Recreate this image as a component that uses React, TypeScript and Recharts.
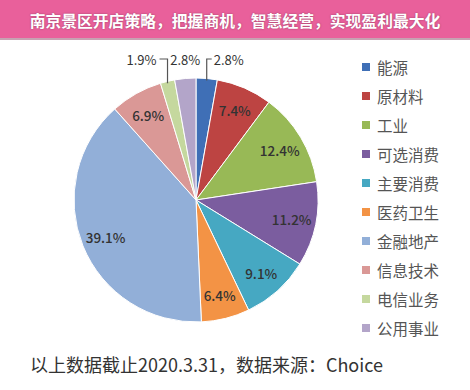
import { PieChart, Pie, Cell, Legend } from 'recharts';

const SECTORS = ['能源', '原材料', '工业', '可选消费', '主要消费', '医药卫生', '金融地产', '信息技术', '电信业务', '公用事业'];
const SHARES = [2.8, 7.4, 12.4, 11.2, 9.1, 6.4, 39.1, 6.9, 1.9, 2.8];
const COLORS = ['#3f6fb6', '#bd4442', '#98b956', '#7b5d9f', '#46a8c2', '#f39345', '#92afd8', '#da9896', '#c5d89e', '#b3a5c9'];

const TITLE = '南京景区开店策略，把握商机，智慧经营，实现盈利最大化';
const NOTE = '以上数据截止2020.3.31，数据来源：Choice';

const data = SECTORS.map((name, i) => ({ name, value: SHARES[i] }));

const RADIAN = Math.PI / 180;
const FONT = '"Noto Sans CJK SC", "Noto Sans", sans-serif';

function SliceLabel(props: any) {
  const { cx, cy, outerRadius, value } = props;
  const midAngle = ((props.midAngle % 360) + 360) % 360;
  const cos = Math.cos(-midAngle * RADIAN);
  const sin = Math.sin(-midAngle * RADIAN);
  const text = `${value.toFixed(1)}%`;
  if (value >= 5) {
    const r = outerRadius * 0.8;
    return (
      <text x={cx + r * cos} y={cy + r * sin} textAnchor="middle" dominantBaseline="central"
        fontSize={13.5} fontWeight={500} fill="#333" fontFamily={FONT}>
        {text}
      </text>
    );
  }
  // small slices: label above the pie, with a bent leader
  const px = cx + outerRadius * cos;
  const py = cy + outerRadius * sin;
  const ly = cy - outerRadius - 19;
  if (midAngle < 90) {
    return (
      <g>
        <polyline points={`${px},${py + 2} ${px},${ly} ${px + 5},${ly}`} fill="none" stroke="#555" strokeWidth={1.2} />
        <text x={px + 7} y={ly} dominantBaseline="central" fontSize={13} fill="#333" fontFamily={FONT}>{text}</text>
      </g>
    );
  }
  if (midAngle < 100) {
    return (
      <text x={px} y={ly} textAnchor="middle" dominantBaseline="central" fontSize={13} fill="#333" fontFamily={FONT}>{text}</text>
    );
  }
  return (
    <g>
      <polyline points={`${px},${py + 2} ${px},${ly} ${px - 8},${ly}`} fill="none" stroke="#555" strokeWidth={1.2} />
      <text x={px - 11} y={ly} textAnchor="end" dominantBaseline="central" fontSize={13} fill="#333" fontFamily={FONT}>{text}</text>
    </g>
  );
}

function SectorLegend() {
  return (
    <div style={{ fontFamily: FONT }}>
      {SECTORS.map((name, i) => (
        <div key={name} style={{ display: 'flex', alignItems: 'center', height: 29 }}>
          <span style={{ width: 8, height: 8, background: COLORS[i], marginRight: 7 }} />
          <span style={{ fontSize: 15.5, color: '#555' }}>{name}</span>
        </div>
      ))}
    </div>
  );
}

export default function App() {
  return (
    <div style={{ position: 'absolute', left: 0, top: 0, width: 470, height: 390, background: '#fff', overflow: 'hidden' }}>
      <PieChart width={470} height={390} margin={{ top: 0, right: 0, bottom: 0, left: 0 }}>
        <Pie
          data={data}
          dataKey="value"
          nameKey="name"
          cx={196}
          cy={200}
          outerRadius={122}
          startAngle={90}
          endAngle={-270}
          stroke="#fff"
          strokeWidth={1}
          label={SliceLabel}
          labelLine={false}
          isAnimationActive={false}
        >
          {data.map((_, i) => (
            <Cell key={i} fill={COLORS[i]} />
          ))}
        </Pie>
        <Legend
          layout="vertical"
          content={<SectorLegend />}
          wrapperStyle={{ left: 362, top: 52, width: 100 }}
        />
      </PieChart>
      <div
        style={{
          position: 'absolute', left: 0, top: 0, width: 470, height: 40,
          background: '#e9609b', borderBottom: '2px solid #c7a2b2',
          color: '#fff', fontFamily: FONT, fontWeight: 700, fontSize: 15.8,
          display: 'flex', alignItems: 'center', justifyContent: 'center',
          textShadow: '0 0 2px rgba(0,0,0,0.35)', paddingTop: 2, boxSizing: 'border-box',
        }}
      >
        {TITLE}
      </div>
      <div
        style={{
          position: 'absolute', left: 30, top: 351, fontFamily: FONT, fontSize: 18, color: '#333',
          whiteSpace: 'nowrap',
        }}
      >
        {NOTE}
      </div>
    </div>
  );
}
